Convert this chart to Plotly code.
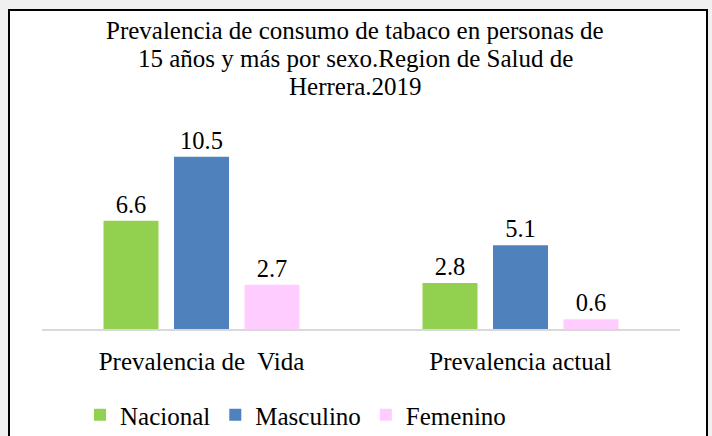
import plotly.graph_objects as go

categories = ["Prevalencia de  Vida", "Prevalencia actual"]
series_names = ["Nacional", "Masculino", "Femenino"]
nacional = [6.6, 2.8]
masculino = [10.5, 5.1]
femenino = [2.7, 0.6]
colors = ["#92d050", "#4f81bd", "#ffccff"]
title_lines = ["Prevalencia de consumo de tabaco en personas de",
               "15 años y más por sexo.Region de Salud de",
               "Herrera.2019"]

FONT = "Liberation Serif"
L, R, T, B = 42, 32, 132, 107
W, H = 712, 436
pw = W - L - R
ph = H - T - B

def px(x):
    return (x - L) / pw

def py(y):
    return (H - B - y) / ph

fig = go.Figure()
for name, vals, c in zip(series_names, [nacional, masculino, femenino], colors):
    fig.add_trace(go.Bar(
        x=categories, y=vals, name=name, marker=dict(color=c, line=dict(width=0)),
        text=[f"{v:.1f}" for v in vals], textposition="outside", cliponaxis=False,
        textfont=dict(family=FONT, size=24.5, color="#000000"),
    ))

annotations = []
for i, line in enumerate(title_lines):
    annotations.append(dict(text=line, xref="paper", yref="paper", x=px(355), y=py(30 + 28 * i),
                            xanchor="center", yanchor="middle", showarrow=False,
                            font=dict(family=FONT, size=25, color="#000000")))

fig.update_layout(
    width=W, height=H,
    margin=dict(l=L, r=R, t=T, b=B, autoexpand=False),
    paper_bgcolor="#f0f0f0", plot_bgcolor="white",
    barmode="group", bargap=0.337, bargroupgap=0.22,
    font=dict(family=FONT, color="#000000"),
    showlegend=True,
    legend=dict(orientation="h", x=px(80), xanchor="left", y=py(438), yanchor="bottom",
                font=dict(family=FONT, size=25, color="#000000"), bgcolor="rgba(0,0,0,0)",
                traceorder="normal"),
    annotations=annotations,
    shapes=[dict(type="rect", xref="paper", yref="paper",
                 x0=px(9), x1=px(707), y0=py(445), y1=py(10),
                 fillcolor="white", line=dict(color="#000000", width=2), layer="below")],
)
fig.update_xaxes(showline=True, linecolor="#d9d9d9", linewidth=2, showgrid=False,
                 tickfont=dict(family=FONT, size=25, color="#000000"), ticks="",
                 ticklabelstandoff=9)
fig.update_yaxes(range=[0, 12], visible=False, showgrid=False, zeroline=False)

fig.write_html("out.html", config=dict(displayModeBar=False),
               post_script="document.body.style.margin='0';document.body.style.overflow='hidden';")
